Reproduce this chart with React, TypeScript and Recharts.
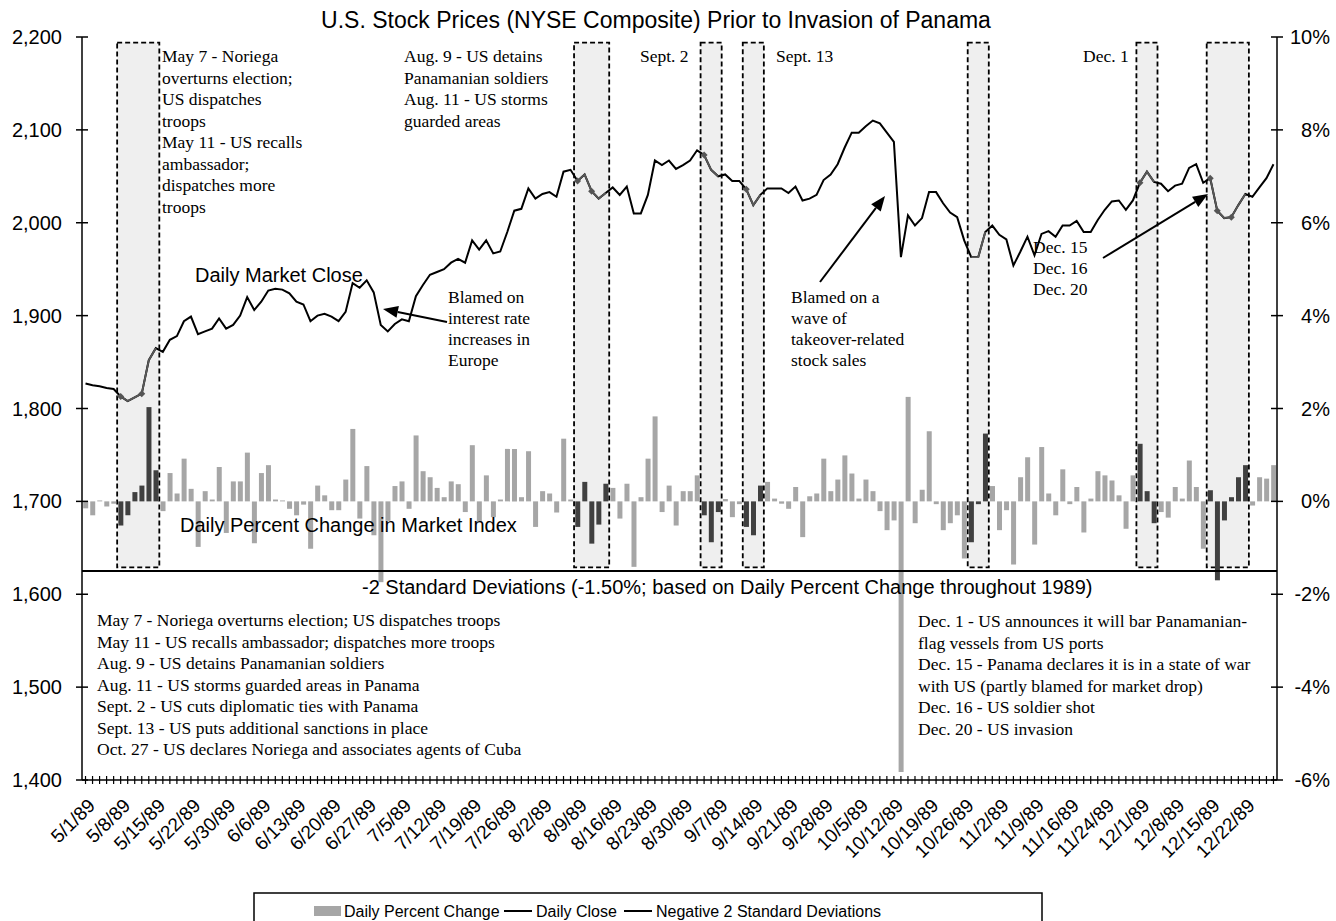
import React from "react";
import {
  ComposedChart,
  Bar,
  Line,
  XAxis,
  YAxis,
  ReferenceArea,
  ReferenceLine,
  Cell,
} from "recharts";

const SANS = "'Liberation Sans', Arial, sans-serif";
const SERIF = "'Liberation Serif', 'Times New Roman', serif";

// trading days, May - Dec 1989
const MONTH_DAYS: [number, number[]][] = [
  [5, [1, 2, 3, 4, 5, 8, 9, 10, 11, 12, 15, 16, 17, 18, 19, 22, 23, 24, 25, 26, 30, 31]],
  [6, [1, 2, 5, 6, 7, 8, 9, 12, 13, 14, 15, 16, 19, 20, 21, 22, 23, 26, 27, 28, 29, 30]],
  [7, [3, 5, 6, 7, 10, 11, 12, 13, 14, 17, 18, 19, 20, 21, 24, 25, 26, 27, 28, 31]],
  [8, [1, 2, 3, 4, 7, 8, 9, 10, 11, 14, 15, 16, 17, 18, 21, 22, 23, 24, 25, 28, 29, 30, 31]],
  [9, [1, 5, 6, 7, 8, 11, 12, 13, 14, 15, 18, 19, 20, 21, 22, 25, 26, 27, 28, 29]],
  [10, [2, 3, 4, 5, 6, 9, 10, 11, 12, 13, 16, 17, 18, 19, 20, 23, 24, 25, 26, 27, 30, 31]],
  [11, [1, 2, 3, 6, 7, 8, 9, 10, 13, 14, 15, 16, 17, 20, 21, 22, 24, 27, 28, 29, 30]],
  [12, [1, 4, 5, 6, 7, 8, 11, 12, 13, 14, 15, 18, 19, 20, 21, 22, 26, 27, 28, 29]],
];
const DATES = MONTH_DAYS.flatMap(([m, days]) => days.map((d) => `${m}/${d}/89`));

const DAILY_CLOSE = [
  1827, 1825, 1824, 1822, 1821, 1813, 1808, 1812, 1816, 1852,
  1865, 1861, 1874, 1878, 1894, 1899, 1880, 1883, 1886, 1897,
  1886, 1890, 1900, 1920, 1906, 1915, 1927, 1929, 1928, 1924,
  1915, 1912, 1894, 1900, 1902, 1899, 1894, 1904, 1935, 1930,
  1938, 1925, 1890, 1883, 1891, 1896, 1894, 1921, 1933, 1944,
  1947, 1950, 1957, 1961, 1957, 1981, 1971, 1981, 1967, 1969,
  1990, 2013, 2015, 2037, 2026, 2031, 2033, 2028, 2055, 2057,
  2045, 2052, 2034, 2026, 2032, 2038, 2030, 2039, 2010, 2010,
  2030, 2067, 2062, 2067, 2058, 2062, 2067, 2078, 2073, 2057,
  2050, 2052, 2045, 2045, 2036, 2019, 2030, 2037, 2037, 2037,
  2032, 2039, 2024, 2026, 2030, 2046, 2052, 2063, 2081, 2097,
  2097, 2104, 2110, 2107, 2097, 2087, 1963, 2008, 1997, 2005,
  2033, 2033, 2021, 2011, 2006, 1981, 1963, 1963, 1990, 1997,
  1987, 1982, 1954, 1969, 1985, 1965, 1988, 1991, 1985, 1997,
  1997, 2002, 1990, 1990, 2003, 2014, 2023, 2024, 2014, 2024,
  2043, 2055, 2044, 2042, 2034, 2040, 2042, 2059, 2063, 2043,
  2048, 2013, 2005, 2006, 2019, 2031, 2028, 2038, 2048, 2063,
];

const DAILY_PCT = [
  -0.15, -0.3, 0.02, -0.11, -0.05, -0.52, -0.3, 0.2, 0.34, 2.03,
  0.67, -0.21, 0.61, 0.17, 0.92, 0.27, -0.98, 0.22, 0.04, 0.74,
  -0.68, 0.43, 0.43, 1.05, -0.9, 0.61, 0.78, 0.04, 0.02, -0.16,
  -0.3, -0.07, -1.02, 0.34, 0.13, -0.19, -0.19, 0.47, 1.56, -0.37,
  0.76, -0.73, -1.74, -0.42, 0.33, 0.43, -0.16, 1.42, 0.65, 0.52,
  0.29, 0.09, 0.43, 0.37, -0.23, 1.21, -0.44, 0.56, -0.34, 0.04,
  1.13, 1.13, 0.09, 1.08, -0.55, 0.22, 0.17, -0.24, 1.35, 0.04,
  -0.55, 0.42, -0.91, -0.5, 0.38, 0.29, -0.37, 0.38, -1.41, 0.09,
  0.92, 1.83, -0.23, 0.34, -0.52, 0.22, 0.22, 0.56, -0.3, -0.88,
  -0.23, 0.05, -0.34, -0.06, -0.55, -0.73, 0.34, 0.42, 0.06, -0.05,
  -0.16, 0.31, -0.77, 0.11, 0.17, 0.92, 0.22, 0.47, 0.99, 0.6,
  0.06, 0.47, 0.22, -0.21, -0.62, -0.41, -5.83, 2.25, -0.47, 0.25,
  1.51, -0.06, -0.62, -0.47, -0.3, -1.23, -0.88, -0.06, 1.46, 0.33,
  -0.62, -0.19, -1.36, 0.52, 0.95, -0.93, 1.17, 0.17, -0.3, 0.69,
  -0.06, 0.31, -0.67, 0.06, 0.65, 0.56, 0.45, 0.13, -0.59, 0.56,
  1.24, 0.22, -0.47, -0.23, -0.35, 0.31, 0.06, 0.88, 0.31, -1.02,
  0.24, -1.7, -0.41, 0.09, 0.52, 0.78, -0.09, 0.52, 0.49, 0.78,
];

const TICK_LABELS = [
  "5/1/89", "5/8/89", "5/15/89", "5/22/89", "5/30/89", "6/6/89", "6/13/89", "6/20/89",
  "6/27/89", "7/5/89", "7/12/89", "7/19/89", "7/26/89", "8/2/89", "8/9/89", "8/16/89",
  "8/23/89", "8/30/89", "9/7/89", "9/14/89", "9/21/89", "9/28/89", "10/5/89", "10/12/89",
  "10/19/89", "10/26/89", "11/2/89", "11/9/89", "11/16/89", "11/24/89", "12/1/89", "12/8/89",
  "12/15/89", "12/22/89",
];

const CLOSE_TICKS = [1400, 1500, 1600, 1700, 1800, 1900, 2000, 2100, 2200];
const PCT_TICKS = [-6, -4, -2, 0, 2, 4, 6, 8, 10];
const NEG_2SD = -1.5;

// event windows (first and last day) and event days
const EVENT_WINDOWS: [string, string][] = [
  ["5/8/89", "5/15/89"],
  ["8/9/89", "8/15/89"],
  ["9/5/89", "9/7/89"],
  ["9/13/89", "9/15/89"],
  ["10/27/89", "10/31/89"],
  ["12/1/89", "12/5/89"],
  ["12/15/89", "12/22/89"],
];
const EVENT_DAYS = [
  "5/8/89", "5/11/89", "8/9/89", "8/11/89", "9/5/89", "9/13/89",
  "12/1/89", "12/15/89", "12/18/89", "12/20/89",
];

const inWindow = (i: number) =>
  EVENT_WINDOWS.some(([a, b]) => i >= DATES.indexOf(a) && i <= DATES.indexOf(b));

const rows = DATES.map((date, i) => ({
  date,
  close: DAILY_CLOSE[i],
  pct: DAILY_PCT[i],
  dark: inWindow(i),
  windowClose: inWindow(i) ? DAILY_CLOSE[i] : null,
  event: EVENT_DAYS.includes(date),
}));

const LeftTick = ({ x, y, payload }: any) => (
  <g>
    <line x1={x - 6} x2={x + 6} y1={y} y2={y} stroke="#000" strokeWidth={1.5} />
    <text x={x - 20} y={y} dy="0.35em" textAnchor="end" fontSize={20} fontFamily={SANS} fill="#000">
      {Number(payload.value).toLocaleString("en-US")}
    </text>
  </g>
);

const RightTick = ({ x, y, payload }: any) => (
  <g>
    <line x1={x - 6} x2={x + 6} y1={y} y2={y} stroke="#000" strokeWidth={1.5} />
    <text x={x + 53} y={y} dy="0.35em" textAnchor="end" fontSize={20} fontFamily={SANS} fill="#000">
      {`${payload.value}%`}
    </text>
  </g>
);

const DateTick = ({ x, y, payload }: any) => {
  const show = TICK_LABELS.includes(payload.value);
  const ax = x + 6;
  const ay = y + 22;
  return (
    <g>
      <line x1={x} x2={x} y1={y - 4} y2={y + 4} stroke="#000" strokeWidth={1.2} />
      {show && (
        <text
          x={ax}
          y={ay}
          dy="0.35em"
          transform={`rotate(-45 ${ax} ${ay})`}
          textAnchor="end"
          fontSize={19}
          fontFamily={SANS}
          fill="#000"
        >
          {payload.value}
        </text>
      )}
    </g>
  );
};

const EventDot = (p: any) => {
  const { cx, cy, payload, index } = p;
  if (!payload || !payload.event || cx == null || cy == null) return <g key={index} />;
  const r = 3.5;
  return (
    <path
      key={index}
      d={`M${cx},${cy - r} L${cx + r},${cy} L${cx},${cy + r} L${cx - r},${cy} Z`}
      fill="#555"
    />
  );
};

function Note({ x, y, lines, size = 17.5, lh = 21.5 }: { x: number; y: number; lines: string[]; size?: number; lh?: number }) {
  return (
    <text fontFamily={SERIF} fontSize={size} fill="#000">
      {lines.map((l, i) => (
        <tspan key={i} x={x} y={y + i * lh}>
          {l}
        </tspan>
      ))}
    </text>
  );
}

function Arrow({ x1, y1, x2, y2 }: { x1: number; y1: number; x2: number; y2: number }) {
  const a = Math.atan2(y2 - y1, x2 - x1);
  const L = 15;
  const W = 6;
  const bx = x2 - L * Math.cos(a);
  const by = y2 - L * Math.sin(a);
  const px = -Math.sin(a) * W;
  const py = Math.cos(a) * W;
  return (
    <g>
      <line x1={x1} y1={y1} x2={bx} y2={by} stroke="#000" strokeWidth={2} />
      <polygon points={`${x2},${y2} ${bx + px},${by + py} ${bx - px},${by - py}`} fill="#000" />
    </g>
  );
}

export default function App() {
  return (
    <div style={{ position: "absolute", left: 0, top: 0, width: 1336, height: 921, background: "#fff" }}>
      <ComposedChart
        width={1336}
        height={870}
        data={rows}
        margin={{ top: 37, right: 0, bottom: 30, left: 12 }}
        barCategoryGap="17%"
      >
        <XAxis
          xAxisId="x"
          dataKey="date"
          interval={0}
          tickSize={0}
          tickMargin={0}
          tickLine={false}
          tick={<DateTick />}
          axisLine={{ stroke: "#000", strokeWidth: 1.5 }}
          height={60}
        />
        <YAxis
          yAxisId="close"
          domain={[1400, 2200]}
          ticks={CLOSE_TICKS}
          width={70}
          tickSize={0}
          tickMargin={0}
          tickLine={false}
          tick={<LeftTick />}
          axisLine={{ stroke: "#000", strokeWidth: 1.5 }}
        />
        <YAxis
          yAxisId="pct"
          orientation="right"
          domain={[-6, 10]}
          ticks={PCT_TICKS}
          width={59}
          tickSize={0}
          tickMargin={0}
          tickLine={false}
          tick={<RightTick />}
          axisLine={{ stroke: "#000", strokeWidth: 1.5 }}
        />
        {EVENT_WINDOWS.map(([a, b]) => (
          <ReferenceArea
            key={a}
            xAxisId="x"
            yAxisId="close"
            x1={a}
            x2={b}
            y1={1629}
            y2={2194}
            fill="#EFEFEF"
            fillOpacity={1}
            stroke="#000"
            strokeWidth={1.8}
            strokeDasharray="5 3"
          />
        ))}
        <Bar xAxisId="x" yAxisId="pct" dataKey="pct" isAnimationActive={false}>
          {rows.map((r, i) => (
            <Cell key={i} fill={r.dark ? "#404040" : "#A6A6A6"} />
          ))}
        </Bar>
        <ReferenceLine xAxisId="x" yAxisId="pct" y={NEG_2SD} stroke="#000" strokeWidth={2} />
        <Line
          xAxisId="x"
          yAxisId="close"
          dataKey="close"
          type="linear"
          stroke="#000"
          strokeWidth={2}
          dot={false}
          activeDot={false}
          isAnimationActive={false}
        />
        <Line
          xAxisId="x"
          yAxisId="close"
          dataKey="windowClose"
          type="linear"
          stroke="#595959"
          strokeWidth={1.8}
          connectNulls={false}
          dot={EventDot}
          activeDot={false}
          isAnimationActive={false}
        />
      </ComposedChart>

      <svg
        width={1336}
        height={921}
        style={{ position: "absolute", left: 0, top: 0, pointerEvents: "none" }}
      >
        <text x={656} y={28} textAnchor="middle" fontFamily={SANS} fontSize={23} fill="#000">
          U.S. Stock Prices (NYSE Composite) Prior to Invasion of Panama
        </text>

        <Note
          x={162}
          y={62}
          lines={[
            "May 7 - Noriega",
            "overturns election;",
            "US dispatches",
            "troops",
            "May 11 - US recalls",
            "ambassador;",
            "dispatches more",
            "troops",
          ]}
        />
        <Note
          x={404}
          y={62}
          lines={["Aug. 9 - US detains", "Panamanian soldiers", "Aug. 11 - US storms", "guarded areas"]}
        />
        <Note x={640} y={62} lines={["Sept. 2"]} />
        <Note x={776} y={62} lines={["Sept. 13"]} />
        <Note x={1083} y={62} lines={["Dec. 1"]} />
        <Note x={448} y={303} lh={21} lines={["Blamed on", "interest rate", "increases in", "Europe"]} />
        <Note x={791} y={303} lh={21} lines={["Blamed on a", "wave of", "takeover-related", "stock sales"]} />
        <Note x={1033} y={253} lh={21} lines={["Dec. 15", "Dec. 16", "Dec. 20"]} />

        <Note
          x={97}
          y={626}
          lines={[
            "May 7 - Noriega overturns election; US dispatches troops",
            "May 11 - US recalls ambassador; dispatches more troops",
            "Aug. 9 - US detains Panamanian soldiers",
            "Aug. 11 - US storms guarded areas in Panama",
            "Sept. 2 - US cuts diplomatic ties with Panama",
            "Sept. 13 - US puts additional sanctions in place",
            "Oct. 27 - US declares Noriega and associates agents of Cuba",
          ]}
        />
        <Note
          x={918}
          y={627}
          lines={[
            "Dec. 1 - US announces it will bar Panamanian-",
            "flag vessels from US ports",
            "Dec. 15 - Panama declares it is in a state of war",
            "with US (partly blamed for market drop)",
            "Dec. 16 - US soldier shot",
            "Dec. 20 - US invasion",
          ]}
        />

        <text x={195} y={282} fontFamily={SANS} fontSize={20} fill="#000">
          Daily Market Close
        </text>
        <text x={180} y={532} fontFamily={SANS} fontSize={20} fill="#000">
          Daily Percent Change in Market Index
        </text>
        <text x={362} y={594} fontFamily={SANS} fontSize={20} fill="#000">
          -2 Standard Deviations (-1.50%; based on Daily Percent Change throughout 1989)
        </text>

        <Arrow x1={447} y1={322} x2={383} y2={309} />
        <Arrow x1={820} y1={282} x2={885} y2={196} />
        <Arrow x1={1103} y1={258} x2={1208} y2={194} />

        <rect x={254} y={893} width={788} height={40} fill="#fff" stroke="#000" strokeWidth={1.5} />
        <rect x={314} y={906} width={27} height={10} fill="#A6A6A6" />
        <text x={344} y={917} fontFamily={SANS} fontSize={16} fill="#000">
          Daily Percent Change
        </text>
        <line x1={504} x2={532} y1={911} y2={911} stroke="#000" strokeWidth={2} />
        <text x={536} y={917} fontFamily={SANS} fontSize={16} fill="#000">
          Daily Close
        </text>
        <line x1={624} x2={652} y1={911} y2={911} stroke="#000" strokeWidth={2} />
        <text x={656} y={917} fontFamily={SANS} fontSize={16} fill="#000">
          Negative 2 Standard Deviations
        </text>
      </svg>
    </div>
  );
}
